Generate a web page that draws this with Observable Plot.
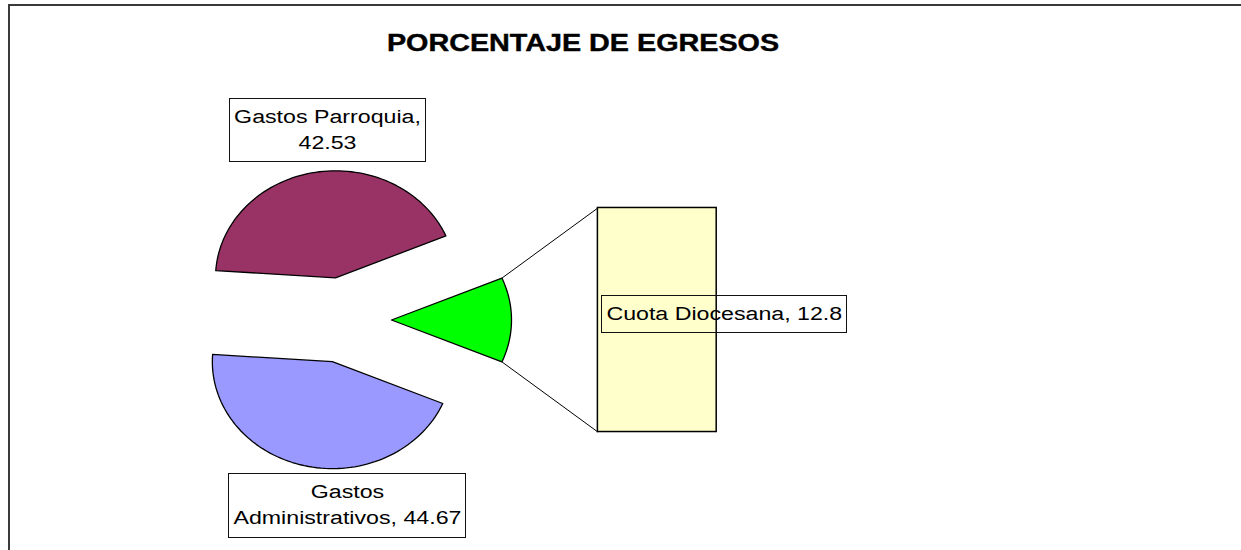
<!DOCTYPE html>
<html><head><meta charset="utf-8">
<script src="https://cdn.jsdelivr.net/npm/d3@7"></script>
<script src="https://cdn.jsdelivr.net/npm/@observablehq/plot@0.6"></script>
<style>
html,body{margin:0;padding:0;background:#fff;}
#wrap{position:relative;width:1241px;height:550px;overflow:hidden;}
#chart svg{display:block;}
#border{position:absolute;left:8px;top:4px;width:1300px;height:600px;border-top:2px solid #3a3a3a;border-left:2px solid #3a3a3a;pointer-events:none;}
</style></head><body>
<div id="wrap"><div id="chart"></div><div id="border"></div></div>
<script>
// ---- data ----
const title = "PORCENTAJE DE EGRESOS";
const categories = ["Gastos Parroquia", "Gastos Administrativos", "Cuota Diocesana"];
const values = [42.53, 44.67, 12.8];
const colors = ["#993366", "#9999FF", "#00FF00"];
const barCategories = ["Cuota Diocesana"];
const barValues = [12.8];
const barColors = ["#FFFFCC"];

// ---- layout ----
const W = 1241, H = 550;
const RX = 120, RY = 107, CX = 343, CY = 319.5;
const EXPLODE = 0.4;
const BAR_LEFT = 2.12, BAR_RIGHT = 3.11, BAR_HALF = 1.047;
const FONT = "'Liberation Sans', Arial, sans-serif";
const STRETCH = 1.22, TITLE_STRETCH = 1.25;
const labelOffsets = [[12, -45], [43, 37], [67, -8.5]];

function wrap(text, max) {
  const words = text.split(" "); const lines = []; let cur = "";
  for (const w of words) {
    const t = cur ? cur + " " + w : w;
    if (t.length > max && cur) { lines.push(cur); cur = w; } else cur = t;
  }
  if (cur) lines.push(cur);
  return lines.join("\n");
}

// pie slices (the "other" slice, index 2, faces the bar)
const total = d3.sum(values);
const deg = Math.PI / 180;
const otherSpan = values[2] / total * 360;
const spans = [];
let a = otherSpan / 2;
spans[0] = [a, a + values[0] / total * 360]; a = spans[0][1];
spans[1] = [a, a + values[1] / total * 360];
spans[2] = [-otherSpan / 2, otherSpan / 2];

const slices = values.map((v, i) => {
  const [a0, a1] = spans[i];
  const mid = (a0 + a1) / 2 * deg;
  const ox = EXPLODE * Math.cos(mid), oy = EXPLODE * Math.sin(mid);
  const pts = [{u: ox, v: oy}];
  const N = 80;
  for (let k = 0; k <= N; k++) {
    const t = (a0 + (a1 - a0) * k / N) * deg;
    pts.push({u: ox + Math.cos(t), v: oy + Math.sin(t)});
  }
  return {i, ox, oy, mid, a0, a1, pts,
    labelPt: {u: ox + Math.cos(mid), v: oy + Math.sin(mid)}};
});

// bar segments
const barTotal = d3.sum(barValues);
let cum = 0;
const barSegs = barValues.map((v, i) => {
  const y1 = -BAR_HALF + cum / barTotal * 2 * BAR_HALF;
  cum += v;
  const y2 = -BAR_HALF + cum / barTotal * 2 * BAR_HALF;
  return {x1: BAR_LEFT, x2: BAR_RIGHT, y1, y2, fill: barColors[i], cat: barCategories[i], value: v};
});

// connectors from the other slice to the bar
const o = slices[2];
const connectors = [
  {x1: o.ox + Math.cos(o.a1 * deg), y1: o.oy + Math.sin(o.a1 * deg), x2: BAR_LEFT, y2: BAR_HALF},
  {x1: o.ox + Math.cos(o.a0 * deg), y1: o.oy + Math.sin(o.a0 * deg), x2: BAR_LEFT, y2: -BAR_HALF}
];

const labels = [
  {u: slices[0].labelPt.u, v: slices[0].labelPt.v, text: wrap(categories[0] + ", " + values[0], 22)},
  {u: slices[1].labelPt.u, v: slices[1].labelPt.v, text: wrap(categories[1] + ", " + values[1], 22)},
  {u: (barSegs[0].x1 + barSegs[0].x2) / 2, v: (barSegs[0].y1 + barSegs[0].y2) / 2, text: wrap(barCategories[0] + ", " + barValues[0], 22)}
];

const plot = Plot.plot({
  width: W, height: H, margin: 0,
  x: {domain: [-CX / RX, (W - CX) / RX], range: [0, W], axis: null},
  y: {domain: [(CY - H) / RY, CY / RY], range: [H, 0], axis: null},
  style: {background: "transparent", fontFamily: FONT},
  marks: [
    ...slices.map(s => Plot.line(s.pts, {x: "u", y: "v", curve: "linear-closed",
      fill: colors[s.i], stroke: "#000", strokeWidth: 1.3})),
    Plot.link(connectors, {x1: "x1", y1: "y1", x2: "x2", y2: "y2", stroke: "#000", strokeWidth: 1}),
    Plot.rect(barSegs, {x1: "x1", x2: "x2", y1: "y1", y2: "y2", fill: "fill", stroke: "#000", strokeWidth: 1.5}),
    ...labels.map((l, i) => Plot.text([l], {x: "u", y: "v", text: "text",
      dx: labelOffsets[i][0], dy: labelOffsets[i][1],
      textAnchor: "middle", lineAnchor: "middle", lineHeight: 1.37,
      fontSize: 19, fontFamily: FONT, fill: "#000"})),
    Plot.text([title], {frameAnchor: "top-left", dx: 582.5, dy: 43.6,
      textAnchor: "middle", lineAnchor: "middle", fontSize: 23, fontWeight: "bold",
      fontFamily: FONT, fill: "#000", stroke: "#000", strokeWidth: 0.4})
  ]
});
document.getElementById("chart").appendChild(plot);

// horizontal stretch of text (reference text is wider than its height suggests)
const svg = d3.select(plot);
svg.selectAll("text").each(function() {
  const bb = this.getBBox();
  const cx = bb.x + bb.width / 2;
  const s = this.textContent === title ? TITLE_STRETCH : STRETCH;
  const t = this.getAttribute("transform") || "";
  this.setAttribute("transform", `${t} translate(${cx},0) scale(${s},1) translate(${-cx},0)`);
});

// boxes around the data labels
const svgRect = plot.getBoundingClientRect();
const labelStrings = new Set(labels.map(l => l.text.replace(/\n/g, "")));
const boxes = [];
svg.selectAll("text").each(function() {
  if (!labelStrings.has(this.textContent)) return;
  const r = this.getBoundingClientRect();
  boxes.push({
    x0: Math.round(r.left - svgRect.left - 5) + 0.5,
    x1: Math.round(r.right - svgRect.left + 4) + 0.5,
    y0: Math.round(r.top - svgRect.top - 8) + 0.5,
    y1: Math.round(r.bottom - svgRect.top + 9) + 0.5
  });
});
const boxG = svg.append("g").attr("aria-label", "label-boxes");
boxes.forEach(b => {
  boxG.append("rect").attr("x", b.x0).attr("y", b.y0).attr("width", b.x1 - b.x0).attr("height", b.y1 - b.y0)
    .attr("fill", "none").attr("stroke", "#111").attr("stroke-width", 1);
});
</script>
</body></html>
